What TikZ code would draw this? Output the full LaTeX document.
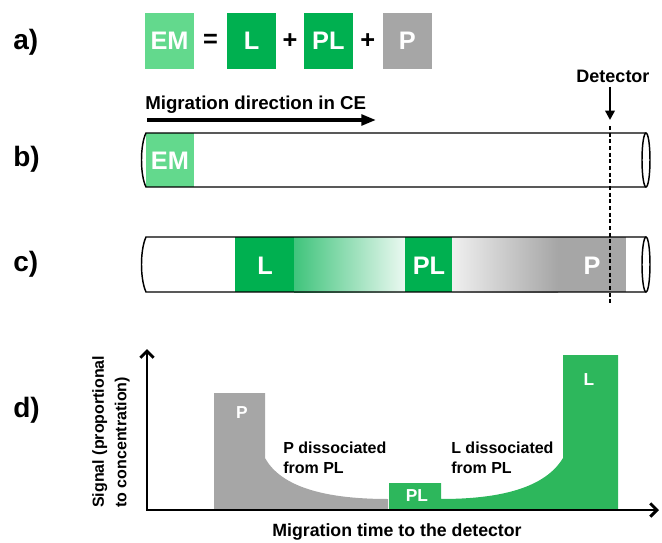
\documentclass[tikz,border=0pt]{standalone}
\usepackage{fontspec}
\setmainfont{Liberation Sans}
\usepackage{tikz}
\usetikzlibrary{positioning}
\usetikzlibrary{arrows.meta}
\definecolor{emgreen}{HTML}{63D98D}
\definecolor{dkgreen}{HTML}{00B050}
\definecolor{pgray}{HTML}{A6A6A6}
\definecolor{sgreen}{HTML}{2DB75C}

\begin{document}
\begin{tikzpicture}[x=0.75pt, y=-0.75pt]
          \tikzstyle{panel} = [inner sep=0pt, anchor=west, font=\fontsize{21}{21}\selectfont\bfseries]
          \tikzstyle{sbox} = [inner sep=0pt, minimum width=36.75pt, minimum height=42pt, text=white, font=\fontsize{19}{19}\selectfont\bfseries]
          \tikzstyle{op} = [inner sep=0pt, font=\fontsize{19}{19}\selectfont\bfseries]
          \tikzstyle{tube} = [line width=1.1pt]
          \tikzstyle{tlab} = [inner sep=0pt, text=white, font=\fontsize{19}{19}\selectfont\bfseries]
          \tikzstyle{txt} = [inner sep=0pt, align=left, font=\fontsize{12}{15}\selectfont\bfseries]
          \tikzstyle{barlab} = [inner sep=0pt, text=white, font=\fontsize{13}{13}\selectfont\bfseries]
          \tikzstyle{migarrow} = [line width=2.6pt, -{Triangle[length=11pt,width=8pt]}]
          \tikzstyle{detarrow} = [line width=1.8pt, -{Triangle[length=7pt,width=7pt]}]
          \tikzstyle{axis} = [line width=2.2pt, {Straight Barb[length=5pt,width=10pt]}-{Straight Barb[length=5pt,width=10pt]}]
          \useasboundingbox (0,0) rectangle (662,543);

          % a)
          \node[panel] (pa) at (13,42) {a)};
          \node[sbox, fill=emgreen] (em) at (169.5,41) {EM};
          \node[op, right=0pt of em, minimum width=24pt] (eqs) {=};
          \node[sbox, fill=dkgreen, right=0pt of eqs] (lbox) {L};
          \node[op, right=0pt of lbox, minimum width=20pt] (plus1) {+};
          \node[sbox, fill=dkgreen, right=0pt of plus1] (plbox) {PL};
          \node[op, right=0pt of plbox, minimum width=21.75pt] (plus2) {+};
          \node[sbox, fill=pgray, right=0pt of plus2] (pbox) {P};

          \node[inner sep=0pt, anchor=west, font=\fontsize{14}{14}\selectfont\bfseries] (mig) at (145,105) {Migration direction in CE};
          \coordinate (mstart) at (147,120);
          \coordinate (mend) at (376,120);
          \draw[migarrow] (mstart) -- (mend);

          \node[inner sep=0pt, font=\fontsize{13.5}{13.5}\selectfont\bfseries] (det) at (613,76) {Detector};
          \coordinate (dtip) at (610,120);
          \draw[detarrow, shorten <=3pt] (det.south -| dtip) -- (dtip);

          % b)
          \node[panel] (pb) at (13,159) {b)};
          \fill[emgreen] (146,133) rectangle (194,187);
          \node[tlab] (emb) at (170,161) {EM};
          \draw[tube] (646,133) -- (146,133) .. controls (140,145) and (140,175) .. (146,187) -- (646,187);
          \draw[tube] (646,160) ellipse [x radius=3pt, y radius=20.25pt];

          % c)
          \node[panel] (pc) at (13,264) {c)};
          \fill[dkgreen] (235,237) rectangle (294,292);
          \shade[left color=dkgreen!75, right color=dkgreen!8] (294,237) rectangle (405,292);
          \fill[dkgreen] (405,237) rectangle (452,292);
          \shade[left color=black!6, right color=pgray] (452,237) rectangle (558,292);
          \fill[pgray] (558,237) rectangle (626,292);
          \node[tlab] (lc) at (265,266) {L};
          \node[tlab] (plc) at (429,266) {PL};
          \node[tlab] (pc2) at (592,266) {P};
          \draw[tube] (646,237) -- (146,237) .. controls (140,250) and (140,279) .. (146,292) -- (646,292);
          \draw[tube] (646,264.5) ellipse [x radius=3pt, y radius=20.6pt];

          \coordinate (dtop) at (610,126);
          \coordinate (dbot) at (610,303);
          \draw[line width=0.8pt, dash pattern=on 3pt off 2pt] (dtop) -- (dbot);

          % d)
          \node[panel] (pd) at (13,410) {d)};
          \fill[pgray] (214,510) -- (214,393) -- (265,393) -- (265,458) .. controls (280,485) and (320,499) .. (388,499) -- (388,510) -- cycle;
          \fill[sgreen] (389,510) -- (389,483) -- (441,483) -- (441,499) .. controls (500,499) and (545,488) .. (563,458) -- (563,355) -- (618,355) -- (618,510) -- cycle;
          \node[barlab] (pdd) at (242,413) {P};
          \node[barlab] (pldd) at (417,496) {PL};
          \node[barlab] (ldd) at (589,380) {L};
          \node[txt, anchor=west] (pdis) at (283,458) {P dissociated\\from PL};
          \node[txt, anchor=west] (ldis) at (451,458) {L dissociated\\from PL};

          \coordinate (orig) at (147,510);
          \coordinate (ytop) at (147,349);
          \coordinate (xend) at (659,510);
          \draw[axis] (ytop) -- (orig) -- (xend);
          \node[txt, rotate=90, anchor=west, font=\fontsize{12}{17}\selectfont\bfseries] (ylab) at (111,508) {Signal (proportional\\to concentration)};
          \node[txt, font=\fontsize{13.3}{13.3}\selectfont\bfseries] (xlab) at (397,532) {Migration time to the detector};
        \end{tikzpicture}
\end{document}
